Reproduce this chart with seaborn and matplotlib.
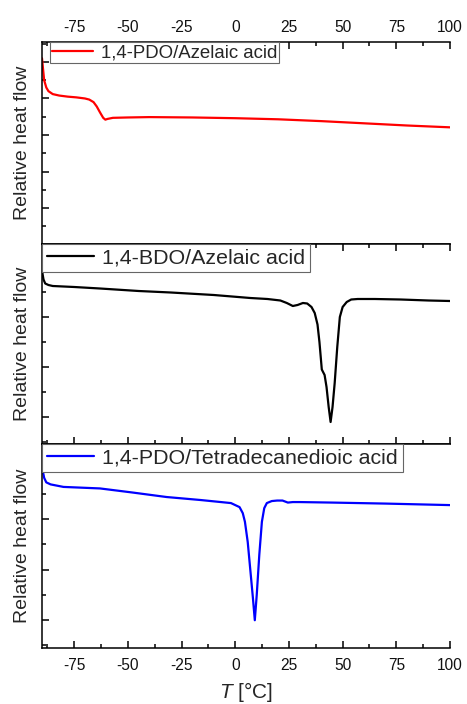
import numpy as np
import pandas as pd
import matplotlib
matplotlib.use("Agg")
import matplotlib.pyplot as plt
from matplotlib.ticker import MultipleLocator, NullFormatter
import seaborn as sns

# ---- data ----
red_T = [-90, -89.5, -89, -88, -87, -85, -82, -78, -74, -70, -68, -66, -64.5, -63, -61.5,
         -60.5, -59.5, -57, -50, -40, -20, 0, 20, 40, 60, 80, 100]
red_V = [4.1, 3.8, 3.5, 3.3, 3.2, 3.12, 3.08, 3.05, 3.03, 3.0, 2.97, 2.9, 2.78, 2.62, 2.47,
         2.42, 2.44, 2.47, 2.48, 2.49, 2.48, 2.46, 2.43, 2.38, 2.32, 2.26, 2.21]

black_T = [-90, -89.7, -89.3, -88.5, -87, -85, -75, -63, -45, -30, -10, 7, 15, 21, 24, 26.8,
           29, 31.5, 33.5, 35.5, 37, 38.3, 39.2, 40.3, 41.6, 42.5, 43.5, 44.4, 45.3, 46.3,
           47.5, 48.7, 50, 51.9, 54, 57, 65, 77, 90, 100]
black_V = [2.98, 2.85, 2.75, 2.67, 2.64, 2.62, 2.6, 2.57, 2.52, 2.49, 2.44, 2.38, 2.36, 2.33,
           2.28, 2.22, 2.24, 2.28, 2.27, 2.2, 2.08, 1.85, 1.5, 0.95, 0.84, 0.6, 0.2, -0.1,
           0.2, 0.68, 1.4, 2.0, 2.2, 2.3, 2.35, 2.36, 2.36, 2.35, 2.33, 2.32]

blue_T = [-90, -89.6, -89, -88, -86, -80, -63, -48, -32, -16, -2, 2, 3.5, 4.5, 5.8, 7, 8.2,
          9.1, 10, 11.2, 12.4, 13.5, 14.7, 17, 19.5, 22, 24.5, 26.8, 30, 45, 70, 100]
blue_V = [3.07, 2.95, 2.82, 2.73, 2.69, 2.64, 2.61, 2.53, 2.44, 2.38, 2.32, 2.24, 2.12, 1.95,
          1.55, 1.0, 0.45, 0.0, 0.5, 1.3, 1.95, 2.22, 2.32, 2.36, 2.37, 2.37, 2.33, 2.34,
          2.34, 2.33, 2.31, 2.28]

labels = ["1,4-PDO/Azelaic acid", "1,4-BDO/Azelaic acid", "1,4-PDO/Tetradecanedioic acid"]
colors = ["#ff0000", "#000000", "#0000ff"]
ylabel = "Relative heat flow"

# ---- style ----
sns.set_style("ticks")
plt.rcParams["font.family"] = ["Liberation Sans", "DejaVu Sans"]
plt.rcParams["mathtext.fontset"] = "custom"
plt.rcParams["mathtext.it"] = "Liberation Sans:italic"
plt.rcParams["mathtext.rm"] = "Liberation Sans"
plt.rcParams["axes.unicode_minus"] = False

fig = plt.figure(figsize=(4.67, 7.04), dpi=100)
W, H = 467, 704
left, right = 42 / W, 450 / W
panels = [(42, 244), (244, 444), (444, 648)]
ylims = [(-0.984, 4.546), (-0.54, 3.46), (-0.55, 3.49)]
leg_fs = [13.4, 15.4, 15.4]
leg_x = [0.02, 0.0, 0.0]
leg_bp = [0.12, 0.22, 0.22]

series = [(red_T, red_V), (black_T, black_V), (blue_T, blue_V)]
axes = []
for i, ((top, bot), (T, V)) in enumerate(zip(panels, series)):
    ax = fig.add_axes([left, 1 - bot / H, right - left, (bot - top) / H])
    df = pd.DataFrame({"T": T, "V": V, "label": labels[i]})
    sns.lineplot(data=df, x="T", y="V", hue="label", palette=[colors[i]], ax=ax,
                 linewidth=1.6, estimator=None, sort=False)
    ax.set_xlim(-90, 100)
    ax.set_ylim(*ylims[i])
    ax.xaxis.set_major_locator(MultipleLocator(25))
    ax.xaxis.set_minor_locator(MultipleLocator(12.5))
    ax.yaxis.set_major_locator(MultipleLocator(1.0))
    ax.yaxis.set_minor_locator(MultipleLocator(0.5))
    ax.yaxis.set_major_formatter(NullFormatter())
    ax.spines["right"].set_visible(False)
    for s in ["left", "top", "bottom"]:
        ax.spines[s].set_color("black")
        ax.spines[s].set_linewidth(1.1)
    ax.tick_params(axis="both", which="major", direction="in", length=5, width=1.1,
                   color="black", labelsize=11.2, labelcolor="#111111", pad=7)
    ax.tick_params(axis="both", which="minor", direction="in", length=3, width=1.1,
                   color="black")
    ax.tick_params(axis="y", which="both", right=False, left=True)
    ax.set_ylabel(ylabel, fontsize=14, labelpad=1)
    ax.set_xlabel("")
    leg = ax.legend(loc="upper left", bbox_to_anchor=(leg_x[i], 1.0),
                    borderaxespad=0, frameon=True, fancybox=False, fontsize=leg_fs[i],
                    handlelength=2.2, handletextpad=0.4, borderpad=leg_bp[i],
                    edgecolor="#666666", framealpha=1)
    leg.get_frame().set_linewidth(0.8)
    for l in leg.get_lines():
        l.set_linewidth(1.6)
    axes.append(ax)

ax1, ax2, ax3 = axes
# top panel: ticks + labels on top
ax1.tick_params(axis="x", which="both", top=True, bottom=False, labeltop=True,
                labelbottom=False, pad=5)
# middle panel: ticks top and bottom, no labels
ax2.tick_params(axis="x", which="both", top=True, bottom=True, labeltop=False, labelbottom=False)
# bottom panel: ticks + labels on bottom
ax3.tick_params(axis="x", which="both", top=False, bottom=True, labeltop=False,
                labelbottom=True, pad=7)
ax3.set_xlabel(r"$T$ [°C]", fontsize=15, labelpad=5)

fig.savefig("out.png", dpi=100)
